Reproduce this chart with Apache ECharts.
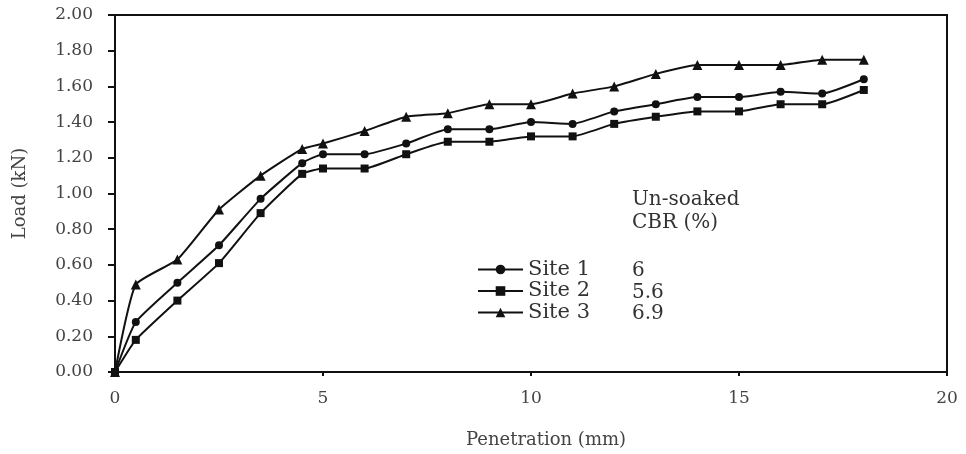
<!DOCTYPE html>
<html lang="en">
<head>
    <meta charset="UTF-8">
    <title>Load vs Penetration</title>
    <style>
        body { margin: 0; background: #fff; }
        #container { width: 966px; height: 454px; }
    </style>
    <script src="https://cdn.jsdelivr.net/npm/echarts@6/dist/echarts.min.js"></script>
</head>
<body>
    <div id="container"></div>
    <script>
        // penetration (mm)
        var penetration = [0, 0.5, 1.5, 2.5, 3.5, 4.5, 5, 6, 7, 8, 9, 10, 11, 12, 13, 14, 15, 16, 17, 18];
        // load (kN) per site
        var site1 = [0, 0.28, 0.50, 0.71, 0.97, 1.17, 1.22, 1.22, 1.28, 1.36, 1.36, 1.40, 1.39, 1.46, 1.50, 1.54, 1.54, 1.57, 1.56, 1.64];
        var site2 = [0, 0.18, 0.40, 0.61, 0.89, 1.11, 1.14, 1.14, 1.22, 1.29, 1.29, 1.32, 1.32, 1.39, 1.43, 1.46, 1.46, 1.50, 1.50, 1.58];
        var site3 = [0, 0.49, 0.63, 0.91, 1.10, 1.25, 1.28, 1.35, 1.43, 1.45, 1.50, 1.50, 1.56, 1.60, 1.67, 1.72, 1.72, 1.72, 1.75, 1.75];
        var siteNames = ['Site 1', 'Site 2', 'Site 3'];
        var siteSymbols = ['circle', 'rect', 'triangle'];
        var cbrValues = ['6', '5.6', '6.9'];

        var chart = echarts.init(document.getElementById('container'));
        var serif = '"DejaVu Serif", "Liberation Serif", serif';

        function pairs(ys) {
            return penetration.map(function (x, i) { return [x, ys[i]]; });
        }

        var series = [site1, site2, site3].map(function (ys, k) {
            return {
                name: siteNames[k],
                type: 'line',
                data: pairs(ys),
                symbol: siteSymbols[k],
                symbolSize: k === 2 ? 10 : 8,
                smooth: 0.15,
                lineStyle: { color: '#111', width: 2 },
                itemStyle: { color: '#111' },
                animation: false
            };
        });

        var option = {
            backgroundColor: '#fff',
            grid: { left: 115, top: 15, right: 19, bottom: 82, show: true, borderColor: '#111', borderWidth: 2 },
            legend: {
                orient: 'vertical',
                left: 477,
                top: 259,
                padding: 0,
                itemWidth: 45,
                itemHeight: 12,
                itemGap: 0.5,
                data: siteNames,
                textStyle: { fontFamily: serif, fontSize: 21, lineHeight: 21, color: '#333' }
            },
            xAxis: {
                type: 'value',
                min: 0, max: 20, interval: 5,
                name: 'Penetration (mm)',
                nameLocation: 'middle',
                nameGap: 59,
                nameTextStyle: { fontFamily: serif, fontSize: 18, color: '#444', padding: [0, 0, 0, 30] },
                axisLine: { lineStyle: { color: '#111', width: 2 } },
                axisTick: { show: true, length: 4, lineStyle: { color: '#111', width: 2 } },
                axisLabel: { fontFamily: serif, fontSize: 17, color: '#444', margin: 18 },
                splitLine: { show: false }
            },
            yAxis: {
                type: 'value',
                min: 0, max: 2, interval: 0.2,
                name: 'Load (kN)',
                nameLocation: 'middle',
                nameGap: 86,
                nameTextStyle: { fontFamily: serif, fontSize: 18, color: '#444' },
                axisLine: { show: true, lineStyle: { color: '#111', width: 2 } },
                axisTick: { show: true, length: 7, lineStyle: { color: '#111', width: 2 } },
                axisLabel: {
                    fontFamily: serif, fontSize: 17, color: '#444', margin: 22,
                    formatter: function (v) { return v.toFixed(2); }
                },
                splitLine: { show: false }
            },
            graphic: [
                { type: 'text', left: 632, top: 190, style: { text: 'Un-soaked', font: '20px ' + serif, fill: '#333' } },
                { type: 'text', left: 632, top: 213, style: { text: 'CBR (%)', font: '20px ' + serif, fill: '#333' } }
            ].concat(cbrValues.map(function (v, i) {
                return { type: 'text', left: 632, top: 261 + i * 21.5, style: { text: v, font: '20px ' + serif, fill: '#333' } };
            })),
            series: series
        };

        chart.setOption(option);
    </script>
</body>
</html>
